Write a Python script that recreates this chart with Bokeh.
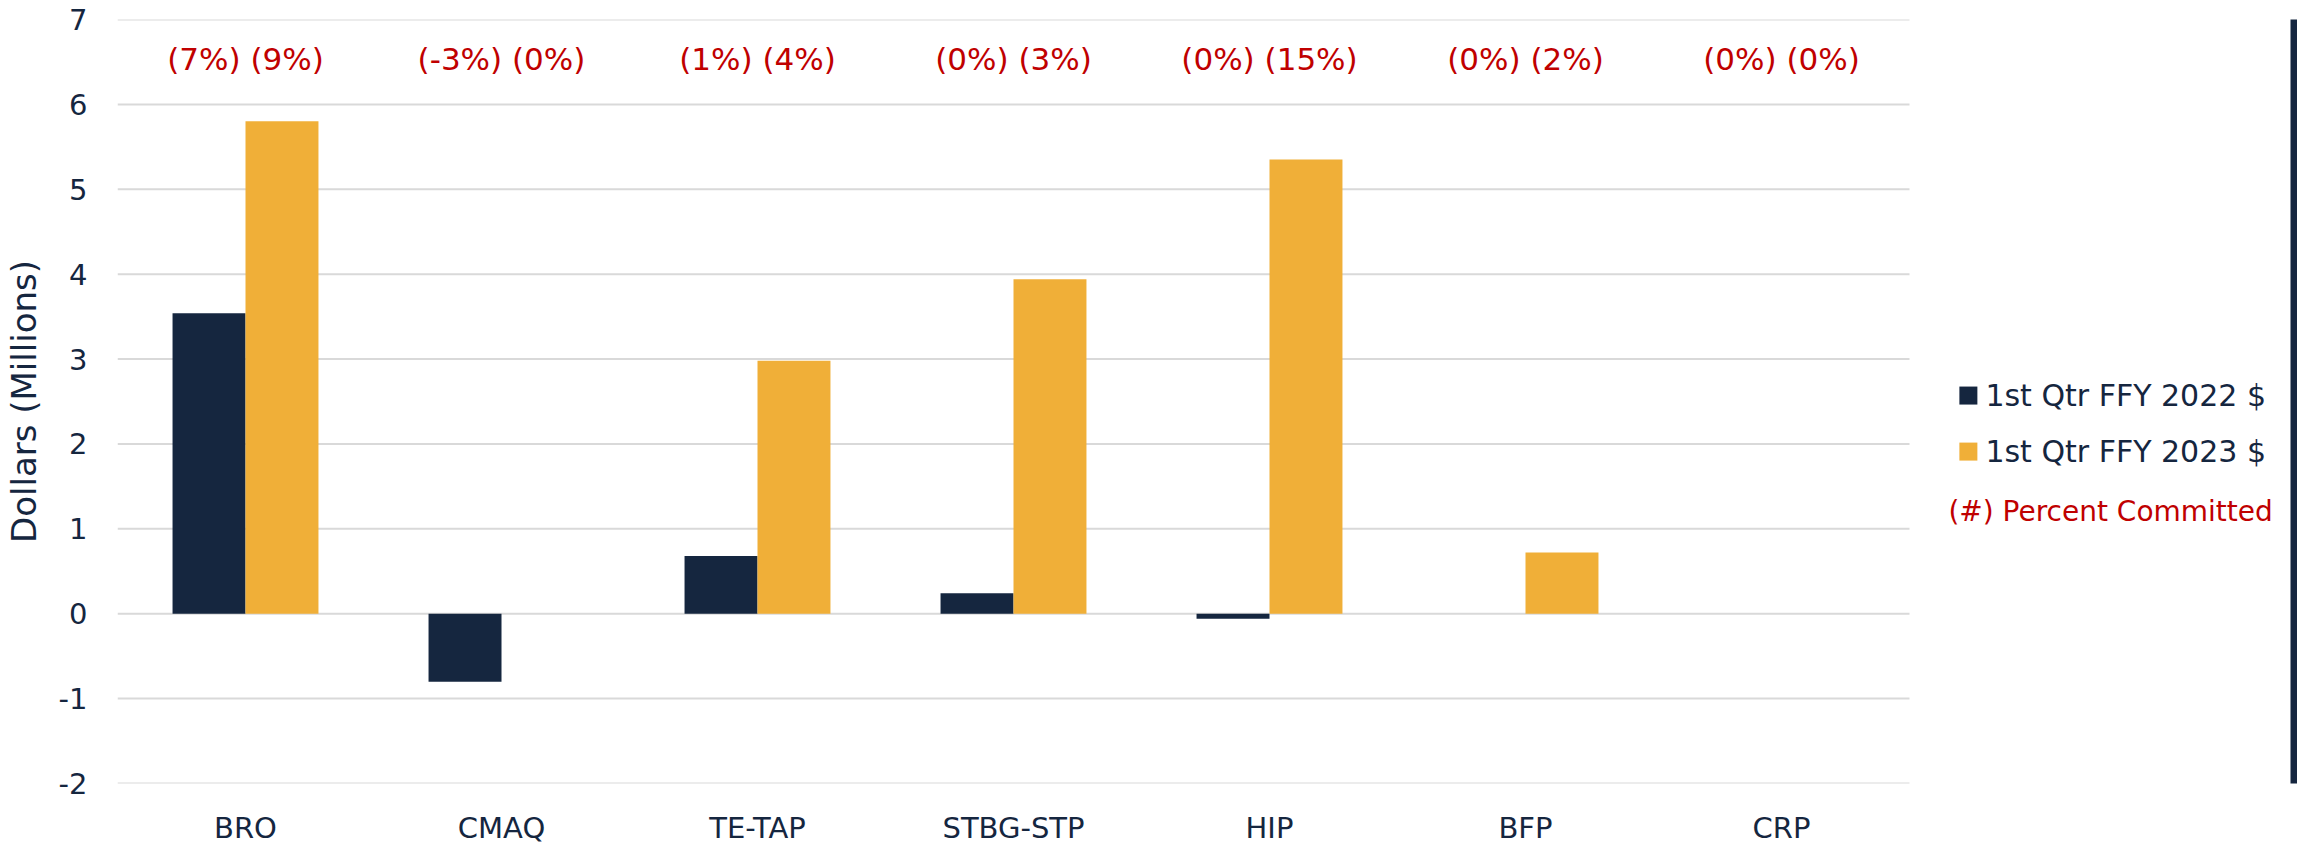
from bokeh.plotting import figure
from bokeh.models import ColumnDataSource, FixedTicker, Range1d, BoxAnnotation
from bokeh.core.properties import value
from bokeh.embed import file_html
from bokeh.resources import INLINE

categories = ["BRO", "CMAQ", "TE-TAP", "STBG-STP", "HIP", "BFP", "CRP"]
values_2022 = [3.54, -0.80, 0.68, 0.24, -0.06, 0.0, 0.0]
values_2023 = [5.80, 0.0, 2.98, 3.94, 5.35, 0.72, 0.0]
pct_2022 = ["7%", "-3%", "1%", "0%", "0%", "0%", "0%"]
pct_2023 = ["9%", "0%", "4%", "3%", "15%", "2%", "0%"]
series_names = ["1st Qtr FFY 2022 $", "1st Qtr FFY 2023 $"]
y_ticks = [-2, -1, 0, 1, 2, 3, 4, 5, 6, 7]
note_text = "(#) Percent Committed"

NAVY = "#15263F"
GOLD = "#F0AF38"
RED = "#C00000"
GRID = "#D9D9D9"
FONT = "DejaVu Sans"

W, H = 2297, 847
BL, BT, BB = 117, 19, 63          # borders around the frame
BAND = 256.0                       # px per category
n = len(categories)
x_end = (W - BL) / BAND            # frame extends over the legend area

centers = [i + 0.5 for i in range(n)]
bw = 0.285
labels = ["(%s) (%s)" % (a, b) for a, b in zip(pct_2022, pct_2023)]

src = ColumnDataSource(dict(
    xc=centers,
    x22=[c - bw / 2 for c in centers],
    x23=[c + bw / 2 for c in centers],
    v22=values_2022, v23=values_2023, lab=labels,
))

p = figure(width=W, height=H, x_range=Range1d(0, x_end), y_range=Range1d(y_ticks[0], y_ticks[-1]),
           toolbar_location=None, output_backend="svg",
           min_border_left=BL, min_border_right=0, min_border_top=BT, min_border_bottom=BB)
p.outline_line_color = None
p.xgrid.visible = False
p.ygrid.visible = False

# horizontal gridlines, only across the category area
p.segment(x0=0, x1=n, y0=y_ticks, y1=y_ticks, line_color=GRID, line_width=2)

p.vbar(x="x22", top="v22", bottom=0, width=bw, source=src, fill_color=NAVY, line_color=None)
p.vbar(x="x23", top="v23", bottom=0, width=bw, source=src, fill_color=GOLD, line_color=None)

label_y = 6.54
p.text(x="xc", y=label_y, text="lab", source=src, text_align="center", text_baseline="middle",
       text_color=RED, text_font=value(FONT), text_font_size="31px")

for ax in (p.xaxis[0], p.yaxis[0]):
    ax.axis_line_color = None
    ax.major_tick_line_color = None
    ax.minor_tick_line_color = None
    ax.major_tick_out = 0
    ax.minor_tick_out = 0
    ax.major_tick_in = 0
    ax.minor_tick_in = 0

p.yaxis.ticker = FixedTicker(ticks=y_ticks)
p.yaxis.major_label_overrides = {t: str(t) for t in y_ticks}
p.yaxis.axis_label = "Dollars (Millions)"
p.yaxis.axis_label_text_font = FONT
p.yaxis.axis_label_text_font_size = "34px"
p.yaxis.axis_label_text_font_style = "normal"
p.yaxis.axis_label_text_color = NAVY
p.yaxis.axis_label_standoff = 12
p.yaxis.major_label_text_font = FONT
p.yaxis.major_label_text_font_size = "29px"
p.yaxis.major_label_text_color = NAVY
p.yaxis.major_label_standoff = 30

p.xaxis.ticker = FixedTicker(ticks=centers)
p.xaxis.major_label_overrides = {c: name for c, name in zip(centers, categories)}
p.xaxis.major_label_text_font = FONT
p.xaxis.major_label_text_font_size = "29px"
p.xaxis.major_label_text_color = NAVY
p.xaxis.major_label_standoff = 27

# legend (drawn by hand, to the right of the categories)
leg_x = n + 0.23
leg = ColumnDataSource(dict(name=series_names, color=[NAVY, GOLD], y=[2.57, 1.91]))
p.rect(x=leg_x, y="y", width=18, height=18, width_units="screen", height_units="screen",
       fill_color="color", line_color=None, source=leg)
p.text(x=leg_x, y="y", text="name", source=leg, x_offset=17, text_align="left",
       text_baseline="middle", text_color=NAVY, text_font=value(FONT), text_font_size="30px")
p.text(x=[leg_x], y=[1.20], text=[note_text], x_offset=-20, text_align="left",
       text_baseline="middle", text_color=RED, text_font=value(FONT), text_font_size="28px")

# dark strip along the right edge
p.add_layout(BoxAnnotation(left=W - 7, right=W, top=0, bottom=H,
                           left_units="canvas", right_units="canvas",
                           top_units="canvas", bottom_units="canvas",
                           fill_color=NAVY, fill_alpha=1.0, line_color=None))

open("out.html", "w").write(file_html(p, INLINE))
